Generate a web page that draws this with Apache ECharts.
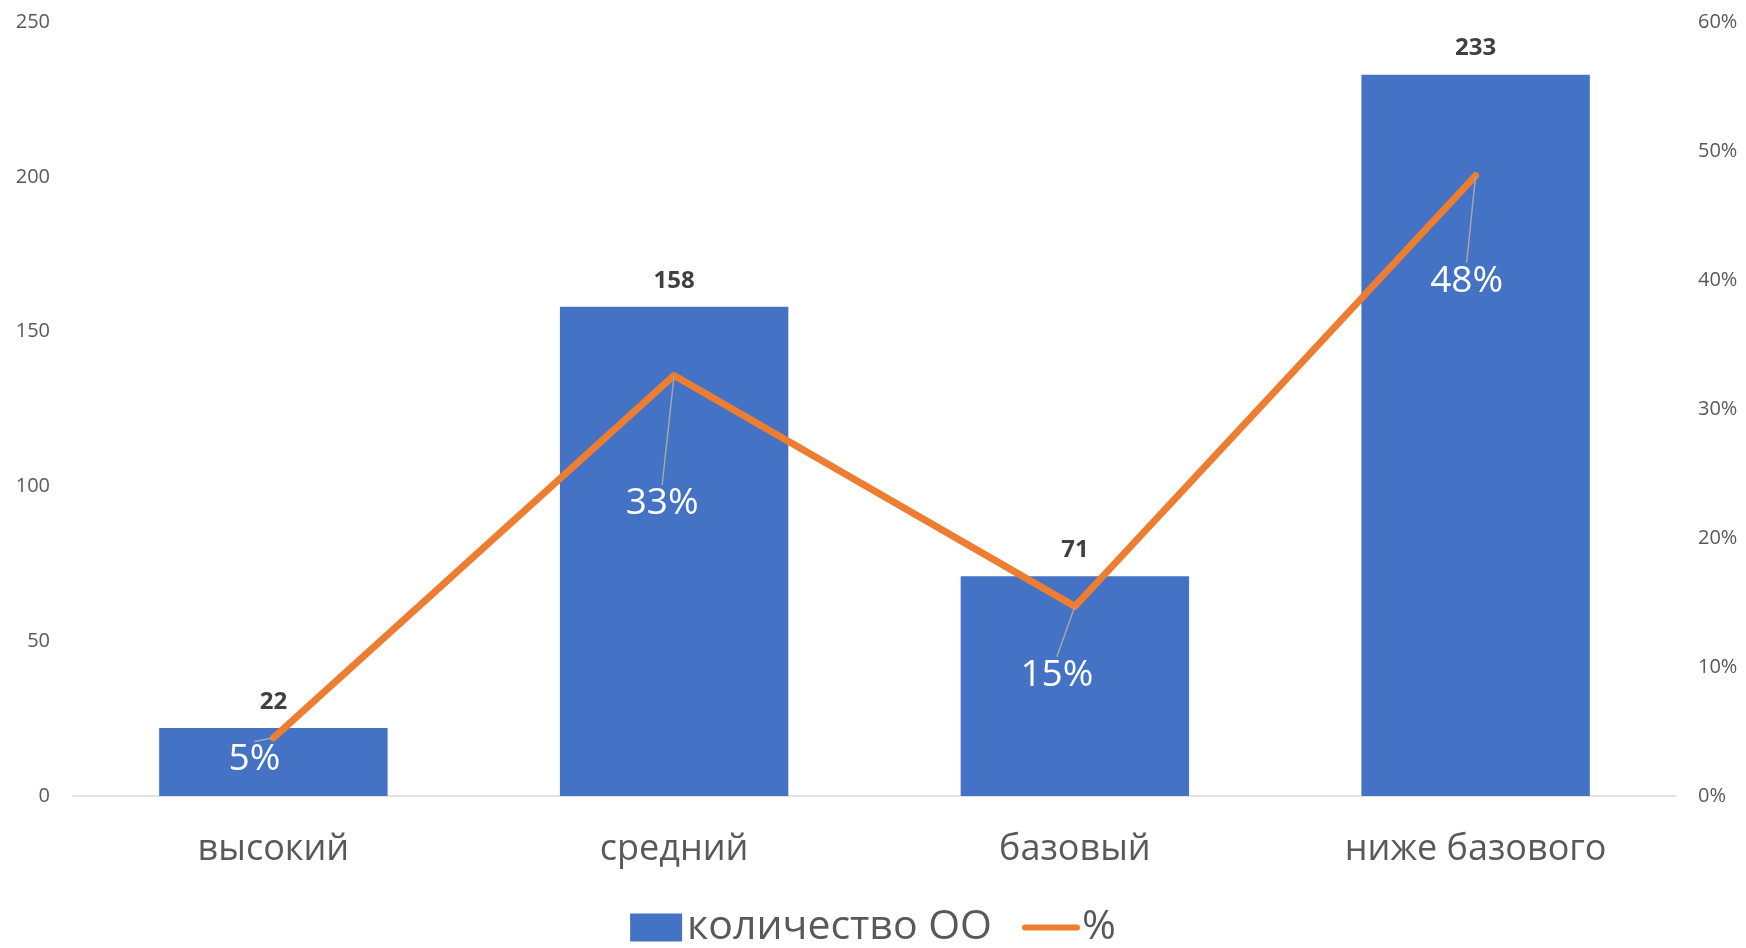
<!DOCTYPE html>
<html><head><meta charset="utf-8">
<script src="https://cdn.jsdelivr.net/npm/echarts@6/dist/echarts.min.js"></script>
<style>html,body{margin:0;padding:0;background:#fff}#c{width:1746px;height:948px}</style>
</head><body><div id="c"></div>
<script>
const categories = ['высокий', 'средний', 'базовый', 'ниже базового'];
const counts = [22, 158, 71, 233];
const percents = [4.5, 32.6, 14.7, 48.1];
const leftTicks = [0, 50, 100, 150, 200, 250];
const rightTicks = [0, 10, 20, 30, 40, 50, 60];
const labelOffsets = [[-19, 22], [-12, 128], [-18, 69], [-9, 106]];

const FONT = '"Open Sans", "Noto Sans", sans-serif';
const chart = echarts.init(document.getElementById('c'), null, {renderer: 'canvas'});
chart.setOption({
  animation: false,
  textStyle: {fontFamily: FONT},
  grid: {left: 73, right: 70, top: 22, bottom: 152},
  legend: {
    bottom: -5, left: 'center', itemGap: 30, itemWidth: 52, itemHeight: 28,
    textStyle: {fontSize: 41, color: '#595959', fontFamily: FONT},
    data: [{name: 'количество ОО', icon: 'rect'},
           {name: '%', itemStyle: {opacity: 0}, lineStyle: {width: 6, cap: 'round', color: '#ED7D31'}}]
  },
  xAxis: {
    type: 'category', data: categories,
    axisLine: {lineStyle: {color: '#D9D9D9', width: 1.5}},
    axisTick: {show: false},
    axisLabel: {fontSize: 36, color: '#595959', margin: 36, fontFamily: FONT}
  },
  yAxis: [{
    type: 'value', min: leftTicks[0], max: leftTicks[leftTicks.length - 1], interval: 50,
    splitLine: {show: false}, axisLine: {show: false}, axisTick: {show: false},
    axisLabel: {fontSize: 20, color: '#595959', margin: 23, fontFamily: FONT}
  }, {
    type: 'value', min: rightTicks[0], max: rightTicks[rightTicks.length - 1], interval: 10,
    splitLine: {show: false}, axisLine: {show: false}, axisTick: {show: false},
    axisLabel: {fontSize: 20, color: '#595959', margin: 22, formatter: '{value}%', fontFamily: FONT}
  }],
  series: [{
    name: 'количество ОО', type: 'bar', data: counts, barCategoryGap: '43%',
    itemStyle: {color: '#4472C4'},
    label: {show: true, position: 'top', distance: 14, fontSize: 24, fontWeight: 'bold', color: '#404040', fontFamily: FONT}
  }, {
    name: '%', type: 'line', yAxisIndex: 1, data: percents,
    symbol: 'circle', symbolSize: 1, showSymbol: true,
    lineStyle: {color: '#ED7D31', width: 7, cap: 'round', join: 'round'},
    itemStyle: {color: '#ED7D31'},
    z: 5,
    label: {show: true, position: 'inside', fontSize: 37, color: '#FFFFFF', fontFamily: FONT,
      formatter: p => Math.round(p.value) + '%'},
    labelLine: {show: true, lineStyle: {color: '#A6A6A6', width: 1.5}},
    labelLayout: p => ({dx: labelOffsets[p.dataIndex][0], dy: labelOffsets[p.dataIndex][1]})
  }]
});
</script></body></html>
